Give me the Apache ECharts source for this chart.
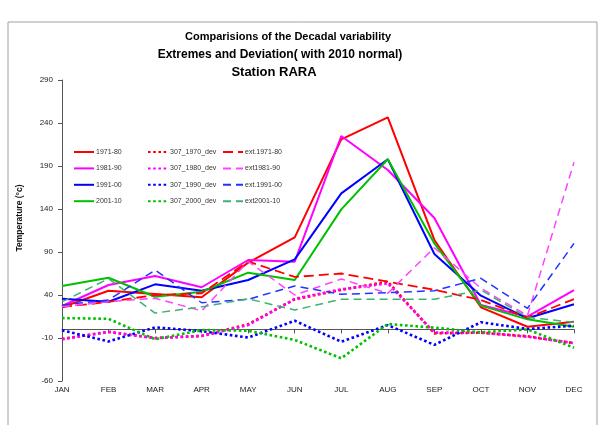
<!DOCTYPE html>
<html>
<head>
<meta charset="utf-8">
<script src="https://cdn.jsdelivr.net/npm/echarts@6/dist/echarts.min.js"></script>
<style>
  html, body { margin: 0; padding: 0; background: #fff; }
  #chart { width: 608px; height: 425px; }
</style>
</head>
<body>
<div id="chart"></div>
<script>
// Months on the category axis
const months = ['JAN', 'FEB', 'MAR', 'APR', 'MAY', 'JUN', 'JUL', 'AUG', 'SEP', 'OCT', 'NOV', 'DEC'];

// Decadal means
const dec1971 = [25.7, 45, 41.2, 37.3, 77.6, 107, 221, 246.6, 104, 25.7, 3.1, 8.9];
const dec1981 = [27.2, 51.6, 62, 49, 80.7, 78.7, 224.9, 185.3, 129.5, 28.4, 14.8, 45.8];
const dec1991 = [35.7, 32.2, 52.4, 45, 57.4, 81.5, 158.2, 197.8, 87.7, 39.2, 12.9, 29.2];
const dec2001 = [50.5, 60.1, 38, 43.8, 66, 57.4, 139.6, 197.8, 100, 27.6, 11.7, 3.1];

// Deviations from the 2010 normal
const dev1970 = [-11, -3, -10, -7.5, 6, 35, 46, 55.5, -4.6, -3.8, -8, -16];
const dev1980 = [-11.5, -2.7, -10.3, -7.7, 5, 35.5, 46.6, 53.6, -3.8, -3.8, -8.5, -16];
const dev1990 = [-1, -14, 2.4, -2, -9.5, 10, -14.3, 5, -18, 8.3, 0.5, 4.3];
const dev2000 = [13.2, 12.3, -11.5, -0.7, -1.5, -12.3, -33.6, 6.3, 2, -3.4, 0, -21.3];

// Extremes
const ext1971 = [26, 32, 40, 42, 79, 61, 65, 55.5, 46, 34.2, 13.6, 35.3];
const ext1981 = [26.4, 32.2, 36.2, 21.6, 79, 40, 58.6, 42, 95, 47.8, 16, 194.3];
const ext1991 = [28.4, 34.2, 69, 31, 35, 50.5, 40.8, 42.7, 45, 59.4, 24.5, 100];
const ext2001 = [32, 59, 19, 26.2, 35.5, 22.6, 35, 35, 35, 45.8, 14, 8.3];

// Axis ticks
const yMin = -60, yMax = 290, yStep = 50;

const FONT = 'Liberation Sans, Arial, sans-serif';

function mkLine(name, data, color, type, width) {
  return {
    name: name,
    type: 'line',
    data: data,
    symbol: 'none',
    smooth: false,
    animation: false,
    lineStyle: { color: color, width: width, type: type, cap: 'butt' },
    itemStyle: { color: color }
  };
}

const DOT = [2.6, 2.6];
const DASH = [8, 5];

const series = [
  mkLine('1971-80', dec1971, '#ff0000', 'solid', 2),
  mkLine('1981-90', dec1981, '#ff00ff', 'solid', 2),
  mkLine('1991-00', dec1991, '#0000ff', 'solid', 2),
  mkLine('2001-10', dec2001, '#00c000', 'solid', 2),
  mkLine('307_1970_dev', dev1970, '#ff0000', DOT, 2.6),
  mkLine('307_1980_dev', dev1980, '#ff00ff', DOT, 2.6),
  mkLine('307_1990_dev', dev1990, '#0000ff', DOT, 2.6),
  mkLine('307_2000_dev', dev2000, '#00c000', DOT, 2.6),
  mkLine('ext.1971-80', ext1971, '#ff0000', [10, 5], 1.8),
  mkLine('ext1981-90', ext1981, '#ff44ff', DASH, 1.5),
  mkLine('ext.1991-00', ext1991, '#2233ff', DASH, 1.5),
  mkLine('ext2001-10', ext2001, '#3cb371', DASH, 1.5)
];

function mkLegend(names, left) {
  return {
    data: names,
    orient: 'vertical',
    left: left,
    top: 148.5,
    padding: 0,
    itemWidth: 20,
    itemHeight: 8,
    itemGap: 9.4,
    selectedMode: false,
    itemStyle: { opacity: 0, borderWidth: 0 },
    textStyle: { fontSize: 7, color: '#333', fontFamily: FONT, padding: [0, 0, 0, -3] }
  };
}

const chart = echarts.init(document.getElementById('chart'), null, { renderer: 'canvas' });

chart.setOption({
  backgroundColor: '#ffffff',
  animation: false,
  grid: { left: 62, top: 80, width: 512, height: 301, containLabel: false },
  legend: [
    mkLegend(['1971-80', '1981-90', '1991-00', '2001-10'], 73),
    mkLegend(['307_1970_dev', '307_1980_dev', '307_1990_dev', '307_2000_dev'], 147),
    mkLegend(['ext.1971-80', 'ext1981-90', 'ext.1991-00', 'ext2001-10'], 222)
  ],
  xAxis: {
    type: 'category',
    data: months,
    boundaryGap: false,
    axisLine: { show: true, lineStyle: { color: '#555', width: 1 } },
    axisTick: { show: true, inside: false, length: 4, lineStyle: { color: '#555' } },
    axisLabel: { fontSize: 8, color: '#222', fontFamily: FONT, margin: 5 },
    splitLine: { show: false }
  },
  yAxis: {
    type: 'value',
    min: yMin,
    max: yMax,
    interval: yStep,
    axisLine: { show: true, lineStyle: { color: '#555', width: 1 } },
    axisTick: { show: true, inside: false, length: 4, lineStyle: { color: '#555' } },
    axisLabel: { fontSize: 8, color: '#222', fontFamily: FONT, margin: 9 },
    splitLine: { show: false }
  },
  graphic: [
    // chart-area frame
    { type: 'polyline', shape: { points: [[8, 430], [8, 22], [597, 22], [597, 430]] },
      style: { stroke: '#a0a0a0', lineWidth: 1, fill: null }, silent: true },
    { type: 'text', x: 288, y: 37, style: { text: 'Comparisions of the Decadal variability',
      font: 'bold 11px ' + FONT, fill: '#000', textAlign: 'center', textVerticalAlign: 'middle' } },
    { type: 'text', x: 280, y: 55, style: { text: 'Extremes and Deviation( with 2010 normal)',
      font: 'bold 12px ' + FONT, fill: '#000', textAlign: 'center', textVerticalAlign: 'middle' } },
    { type: 'text', x: 274, y: 72, style: { text: 'Station RARA',
      font: 'bold 13px ' + FONT, fill: '#000', textAlign: 'center', textVerticalAlign: 'middle' } },
    // y-axis title
    { type: 'text', x: 20, y: 218, rotation: Math.PI / 2, style: { text: 'Temperature (°c)',
      font: 'bold 8.5px ' + FONT, fill: '#111', textAlign: 'center', textVerticalAlign: 'middle' } }
  ],
  series: series
});
</script>
</body>
</html>
